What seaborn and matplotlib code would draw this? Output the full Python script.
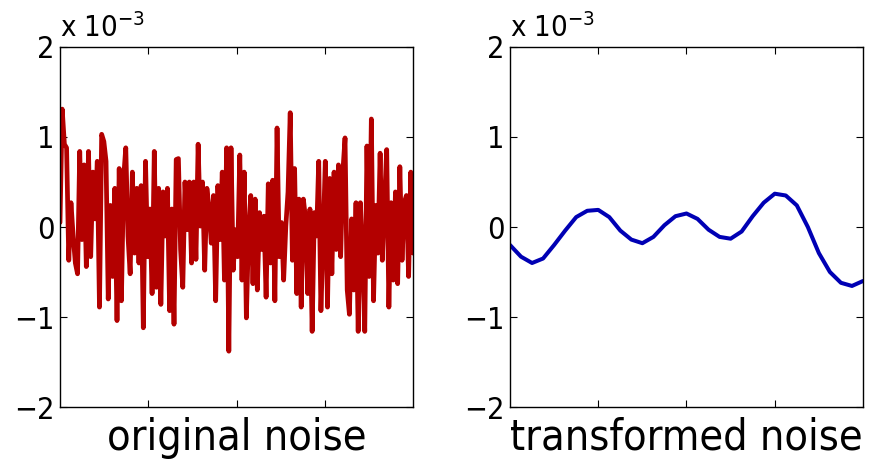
import numpy as np
import pandas as pd
import matplotlib
matplotlib.use("Agg")
import matplotlib.pyplot as plt
import seaborn as sns

# values in units of 1e-3
original_noise = [
    0.05, 1.31, 0.92, 0.88, -0.37, 0.27, -0.10, -0.40, -0.52, 0.84,
    -0.14, 0.69, -0.44, 0.84, -0.33, 0.61, 0.09, 0.73, -0.89, 1.03,
    0.95, 0.73, -0.80, 0.24, -0.55, 0.43, -1.04, 0.65, -0.82, 0.54,
    0.88, -0.10, -0.52, 0.61, -0.29, 0.43, -0.40, 0.46, -1.12, 0.73,
    -0.33, 0.20, -0.74, 0.84, -0.67, 0.43, -0.86, 0.39, -0.10, 0.43,
    -0.93, 0.20, -1.08, 0.75, 0.76, -0.25, -0.67, 0.50, -0.03,
    0.50, -0.40, 0.50, -0.36, 0.92, 0.01, 0.50, -0.48, 0.43, 0.20,
    -0.18, 0.35, -0.82, 0.46, -0.14, 0.61, -0.59, 0.88, -1.38, 0.88,
    -0.48, -0.03, -0.33, 0.80, -0.59, 0.61, -1.01, -0.06, 0.35, -0.63,
    0.31, -0.70, 0.16, -0.25, 0.12, -0.78, 0.48, -0.40, 0.52, -0.82,
    1.10, -0.33, 0.05, -0.59, 0.01, 0.39, 1.27, -0.37, 0.65, -0.74,
    0.31, -0.89,
    0.31, 0.09, -0.74, 0.20, -1.16, 0.16, -0.10, 0.73, -0.93, -0.14,
    0.73, -0.89, 0.54, -0.52, 0.61, -0.25, 0.69, -0.33, 0.61, 0.99,
    -0.70, -0.97, 0.09, -0.70, 0.27, -1.16,
    0.27, -0.33, -1.16, 0.90, -0.55, 1.20, -0.82, 0.24, -0.29, 0.82,
    -0.37, 0.27, 0.86, -0.89, 0.27, -0.59, 0.39, -0.63, 0.67, -0.37,
    0.27, 0.35, -0.55, 0.61, -0.29,
]

transformed_noise = [
    -0.20, -0.33, -0.40, -0.35, -0.20, -0.04, 0.11, 0.18, 0.19, 0.11,
    -0.04, -0.14, -0.18, -0.11, 0.02, 0.12, 0.15, 0.09, -0.03, -0.11,
    -0.13, -0.05, 0.12, 0.27, 0.37, 0.35, 0.24, 0.00, -0.29, -0.50,
    -0.62, -0.655, -0.60,
]

panel_labels = ["original noise", "transformed noise"]
y_ticks = [-2, -1, 0, 1, 2]
y_tick_labels = ["\u22122", "\u22121", "0", "1", "2"]

sns.set_style("ticks")
plt.rcParams["font.family"] = ["DejaVu Sans"]
plt.rcParams["font.stretch"] = "condensed"
for k in ["text.color", "axes.labelcolor", "xtick.color", "ytick.color"]:
    plt.rcParams[k] = "black"

fig = plt.figure(figsize=(8.87, 4.65), dpi=100)
ax1 = fig.add_axes([60 / 887, 58 / 465, 353 / 887, 360 / 465])
ax2 = fig.add_axes([510 / 887, 58 / 465, 353 / 887, 360 / 465])

df1 = pd.DataFrame({"x": np.linspace(0, 1, len(original_noise)), "y": original_noise})
df2 = pd.DataFrame({"x": np.linspace(0, 1, len(transformed_noise)), "y": transformed_noise})

sns.lineplot(data=df1, x="x", y="y", ax=ax1, color="#b30000", linewidth=3.4)
sns.lineplot(data=df2, x="x", y="y", ax=ax2, color="#0000b4", linewidth=2.9)

for ax, lab in zip([ax1, ax2], panel_labels):
    ax.set_xlim(0, 1)
    ax.set_ylim(-2, 2)
    ax.set_xticks([0.25, 0.5, 0.75])
    ax.set_xticklabels([])
    ax.set_yticks(y_ticks)
    ax.set_yticklabels(y_tick_labels, fontsize=22)
    ax.tick_params(direction="in", length=5, width=0.8, top=True, right=True, pad=4)
    for s in ax.spines.values():
        s.set_visible(True)
        s.set_linewidth(1.0)
        s.set_color("black")
    ax.set_xlabel(lab, fontsize=31, labelpad=3)
    ax.set_ylabel("")
    ax.text(0.0, 1.01, "x 10$^{-3}$", transform=ax.transAxes, fontsize=21,
            ha="left", va="bottom")

fig.savefig("out.png", dpi=100)
